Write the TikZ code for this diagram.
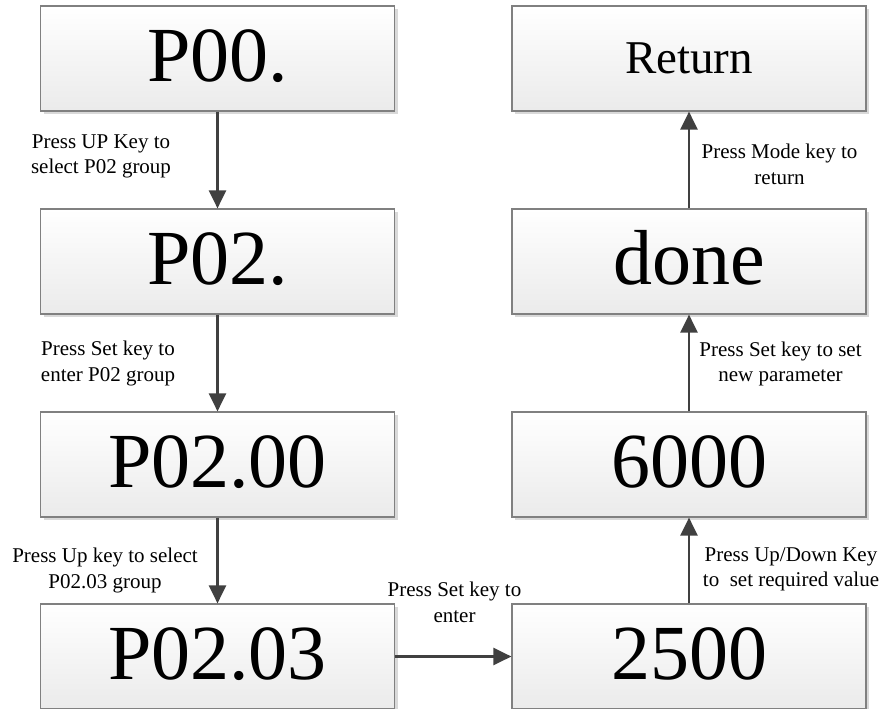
\documentclass[tikz,border=0pt]{standalone}
\usepackage{fontspec}
\setmainfont{Liberation Serif}
\usetikzlibrary{arrows.meta,shadows}

\tikzset{
  stepbox/.style={
    draw=black!50, line width=1.2pt,
    top color=white, bottom color=black!8,
    drop shadow={shadow xshift=3pt, shadow yshift=-3pt, fill=black, opacity=0.15},
    minimum width=354pt, minimum height=105pt,
    inner sep=0pt, anchor=center,
    font=\fontsize{78}{78}\selectfont,
    text height=46pt, text depth=0pt
  },
  smallbox/.style={stepbox, font=\fontsize{47}{47}\selectfont, text height=31pt},
  flow/.style={draw=black!75, line width=2.6pt,
    -{Triangle[length=18pt,width=17pt]}},
  note/.style={align=center, inner sep=0pt, anchor=center,
    font=\fontsize{21}{25.5}\selectfont}
}

\begin{document}
\begin{tikzpicture}[x=1pt,y=-1pt]
  \useasboundingbox (0,0) rectangle (884,709);

  % left column (top to bottom)
  \node[stepbox] (p00)   at (217.5,58.5)  {P00.};
  \node[stepbox] (p02)   at (217.5,261.5) {P02.};
  \node[stepbox] (p0200) at (217.5,464.5) {P02.00};
  \node[stepbox] (p0203) at (217.5,656.5) {P02.03};

  % right column (bottom to top)
  \node[stepbox]  (v2500) at (689,656.5) {2500};
  \node[stepbox]  (v6000) at (689,464.5) {6000};
  \node[stepbox]  (done)  at (689,261.5) {done};
  \node[smallbox] (ret)   at (689,58.5)  {Return};

  % connectors
  \draw[flow] (p00)   -- (p02);
  \draw[flow] (p02)   -- (p0200);
  \draw[flow] (p0200) -- (p0203);
  \draw[flow] (p0203) -- (v2500);
  \draw[flow] (v2500) -- (v6000);
  \draw[flow] (v6000) -- (done);
  \draw[flow] (done)  -- (ret);

  % step descriptions
  \node[note] (n1) at (101,156.5)  {Press UP Key to\\select P02 group};
  \node[note] (n2) at (108,363.7)  {Press Set key to\\enter P02 group};
  \node[note] (n3) at (105,570.3)  {Press Up key to select\\P02.03 group};
  \node[note] (n4) at (454.5,602.5) {Press Set key to\\enter};
  \node[note] (n5) at (791,569.5)  {Press Up/Down Key\\to\ \ set required value};
  \node[note] (n6) at (780.5,363.7) {Press Set key to set\\new parameter};
  \node[note] (n7) at (779.5,164.2) {Press Mode key to\\return};
\end{tikzpicture}
\end{document}
